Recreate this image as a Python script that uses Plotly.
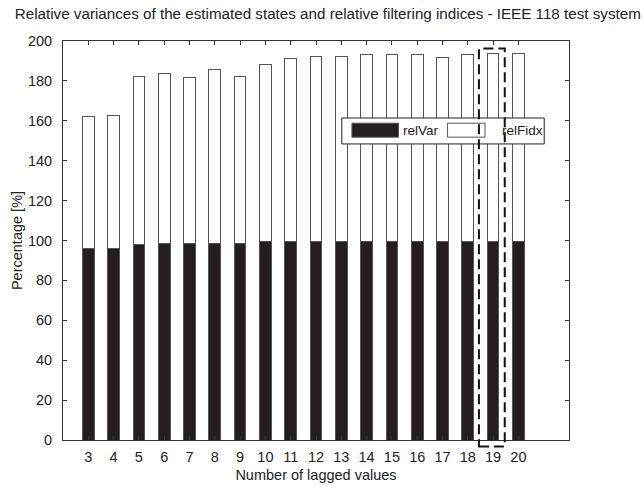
import plotly.graph_objects as go

lags = list(range(3, 21))
rel_var = [96.1, 96.0, 98.1, 98.7, 98.7, 98.7, 98.7, 99.3, 99.4, 99.4,
           99.4, 99.4, 99.4, 99.4, 99.4, 99.4, 99.4, 99.4]
rel_fidx = [66.3, 66.9, 84.1, 84.9, 82.9, 87.0, 83.5, 89.0, 91.7, 92.9,
            92.9, 93.7, 93.7, 93.7, 92.2, 93.7, 94.2, 94.2]
series_names = ["relVar", "relFidx"]
highlight_lag = 19
title_text = "Relative variances of the estimated states and relative filtering indices - IEEE 118 test system"

FONT = "Arial, Liberation Sans, sans-serif"
TXT = "#222"

fig = go.Figure()
fig.add_trace(go.Bar(x=lags, y=rel_var, name=series_names[0], width=0.46,
                     marker=dict(color="#231f20", line=dict(color="#555555", width=1))))
fig.add_trace(go.Bar(x=lags, y=rel_fidx, name=series_names[1], width=0.46,
                     marker=dict(color="white", line=dict(color="#555555", width=1))))

shapes = []
# custom legend box
shapes.append(dict(type="rect", xref="paper", yref="paper", x0=0.551, x1=0.951, y0=0.742, y1=0.807,
                   fillcolor="white", line=dict(color="#222", width=1), layer="above"))
shapes.append(dict(type="rect", xref="paper", yref="paper", x0=0.571, x1=0.663, y0=0.759, y1=0.794,
                   fillcolor="#231f20", line=dict(color="#555", width=1), layer="above"))
shapes.append(dict(type="rect", xref="paper", yref="paper", x0=0.760, x1=0.834, y0=0.759, y1=0.794,
                   fillcolor="white", line=dict(color="#555", width=1), layer="above"))
# dashed highlight around one lag
shapes.append(dict(type="rect", xref="x", yref="paper",
                   x0=highlight_lag - 0.56, x1=highlight_lag + 0.46,
                   y0=-0.016, y1=0.981,
                   fillcolor="rgba(0,0,0,0)",
                   line=dict(color="#111", width=2, dash="10px,5px"), layer="above"))

annotations = [
    dict(xref="paper", yref="paper", x=0.667, y=0.7765, text=series_names[0], showarrow=False,
         xanchor="left", yanchor="middle", font=dict(family=FONT, size=13.5, color=TXT)),
    dict(xref="paper", yref="paper", x=0.864, y=0.7765, text=series_names[1], showarrow=False,
         xanchor="left", yanchor="middle", font=dict(family=FONT, size=13.5, color=TXT)),
]

fig.update_layout(
    width=644, height=485,
    barmode="stack",
    showlegend=False,
    plot_bgcolor="white", paper_bgcolor="white",
    margin=dict(l=63, r=75, t=41, b=45),
    font=dict(family=FONT, size=14.5, color=TXT),
    title=dict(text=title_text, x=0.509, xanchor="center", xref="container",
               y=0.972, yanchor="middle", font=dict(family=FONT, size=15.2, color=TXT)),
    shapes=shapes,
    annotations=annotations,
    xaxis=dict(range=[2, 22], tickmode="array", tickvals=lags, ticktext=[str(v) for v in lags],
               showline=True, linecolor="#333", linewidth=1, mirror="ticks", automargin=False,
               ticks="inside", ticklen=4, tickcolor="#333", showgrid=False, zeroline=False,
               ticklabelstandoff=4, tickfont=dict(size=14.5),
               title=dict(text="Number of lagged values", standoff=5,
                          font=dict(family=FONT, size=14.5, color=TXT))),
    yaxis=dict(range=[0, 200], dtick=20, tick0=0, automargin=False,
               showline=True, linecolor="#333", linewidth=1, mirror="ticks",
               ticks="inside", ticklen=4, tickcolor="#333", showgrid=False, zeroline=False,
               ticklabelstandoff=7, tickfont=dict(size=14.5),
               title=dict(text="Percentage [%]", standoff=1,
                          font=dict(family=FONT, size=14.5, color=TXT))),
)

fig.write_html("out.html")
